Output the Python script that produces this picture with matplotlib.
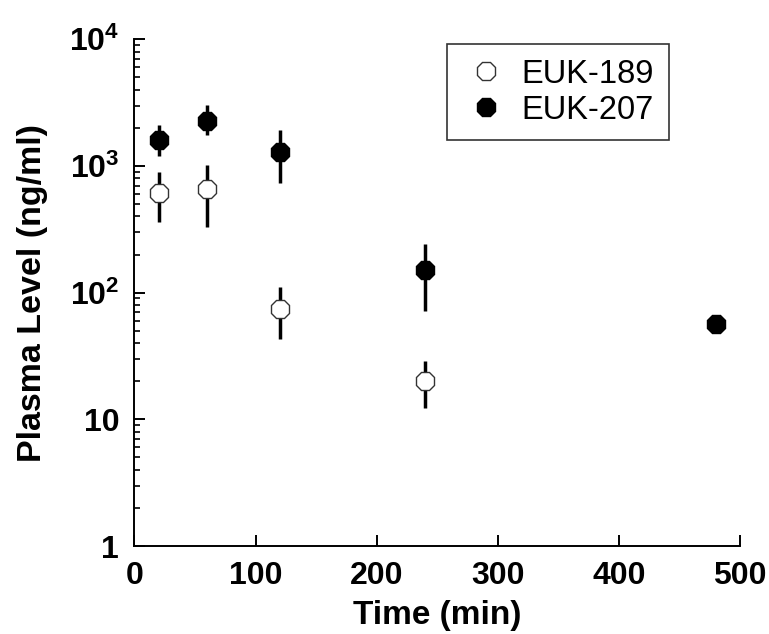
import matplotlib
matplotlib.use('Agg')
import matplotlib.pyplot as plt
from matplotlib.ticker import FixedLocator, LogLocator, NullFormatter

plt.rcParams['font.family'] = ['Liberation Sans', 'DejaVu Sans']
plt.rcParams['mathtext.fontset'] = 'custom'
plt.rcParams['mathtext.rm'] = 'Liberation Sans:bold'
plt.rcParams['mathtext.bf'] = 'Liberation Sans:bold'
plt.rcParams['mathtext.it'] = 'Liberation Sans:bold'

# 数据
time_189 = [20, 60, 120, 240]
level_189 = [615, 654, 74, 20]
low_189 = [363, 331, 43, 12.2]
high_189 = [900, 1016, 111, 29]

time_207 = [20, 60, 120, 240, 480]
level_207 = [1600, 2275, 1290, 151, 56.5]
low_207 = [1200, 1750, 737, 72, 56.5]
high_207 = [2100, 3025, 1920, 242, 56.5]

x_ticks = [0, 100, 200, 300, 400, 500]
y_ticks = [1, 10, 100, 1000, 10000]
y_tick_labels = ['1', '10', r'$\mathbf{10^{2}}$', r'$\mathbf{10^{3}}$', r'$\mathbf{10^{4}}$']

fig = plt.figure(figsize=(7.69, 6.34), dpi=100)
ax = fig.add_axes([0.1748, 0.1388, 0.7875, 0.7992])


def err(level, low, high):
    return [[v - l for v, l in zip(level, low)], [h - v for v, h in zip(level, high)]]


ax.errorbar(time_189, level_189, yerr=err(level_189, low_189, high_189), fmt='none',
            ecolor='black', elinewidth=2.5, capsize=0, zorder=2)
ax.errorbar(time_207, level_207, yerr=err(level_207, low_207, high_207), fmt='none',
            ecolor='black', elinewidth=2.5, capsize=0, zorder=2)
ax.plot(time_189, level_189, linestyle='none', marker='8', markersize=14,
        markerfacecolor='white', markeredgecolor='#333333', markeredgewidth=1.0,
        label='EUK-189', zorder=3)
ax.plot(time_207, level_207, linestyle='none', marker='8', markersize=14,
        markerfacecolor='black', markeredgecolor='black', markeredgewidth=1.0,
        label='EUK-207', zorder=3)

ax.set_yscale('log')
ax.set_xlim(0, 500)
ax.set_ylim(1, 10000)

for side in ['top', 'right']:
    ax.spines[side].set_visible(False)
for side in ['left', 'bottom']:
    ax.spines[side].set_linewidth(1.4)

ax.xaxis.set_major_locator(FixedLocator(x_ticks))
ax.set_xticklabels([str(t) for t in x_ticks])
ax.yaxis.set_major_locator(FixedLocator(y_ticks))
ax.set_yticklabels(y_tick_labels)
ax.yaxis.set_minor_locator(LogLocator(base=10, subs=range(2, 10), numticks=20))
ax.yaxis.set_minor_formatter(NullFormatter())

ax.tick_params(axis='both', which='major', direction='in', length=8, width=1.4,
               labelsize=23, pad=11)
ax.tick_params(axis='y', which='minor', direction='in', length=4.5, width=1.2)
for lab in ax.get_xticklabels() + ax.get_yticklabels():
    lab.set_fontweight('bold')

ax.set_xlabel('Time (min)', fontsize=24, fontweight='bold', labelpad=6)
ax.set_ylabel('Plasma Level (ng/ml)', fontsize=24.5, fontweight='bold', labelpad=15)

leg = ax.legend(loc='upper left', bbox_to_anchor=(0.5157, 0.9907), borderaxespad=0,
                fontsize=23.5, frameon=True, fancybox=False, edgecolor='black',
                handletextpad=0.35, labelspacing=0.15, borderpad=0.45,
                handlelength=1.5, markerscale=1.0)
leg.get_frame().set_linewidth(1.2)

fig.savefig('out.png', dpi=100)
